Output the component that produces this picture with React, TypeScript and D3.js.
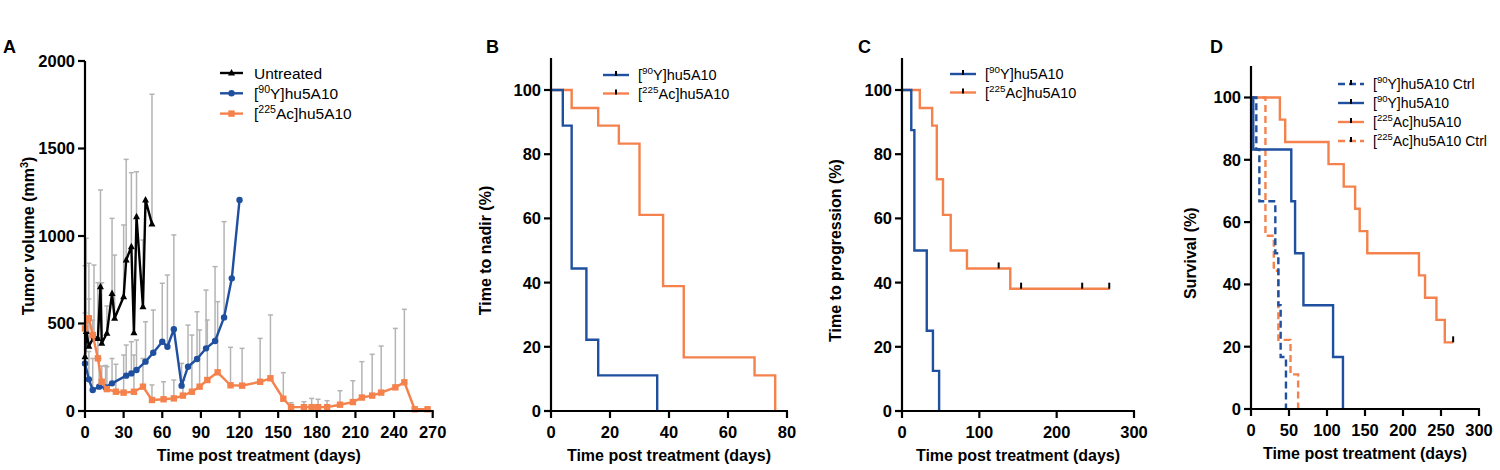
import React from 'react';
import * as d3 from 'd3';

// ---------- DATA ----------
// Panel A: tumour volume (mm3), mean with upper error bar
const untreatedDays = [0, 1, 3, 7, 10, 12, 13, 17, 21, 23, 30, 32, 36, 38, 40, 45, 47, 52];
const untreatedVals = [310, 455, 370, 425, 415, 710, 387, 444, 672, 530, 653, 863, 939, 447, 1110, 596, 1206, 1069];
const untreatedErr = [830, 987, 844, 834, 733, 1263, 733, 600, 1101, 891, 1063, 1438, 1362, 447, 1367, 977, 1206, 1810];

const yDays = [0, 3, 6, 11, 16, 21, 32, 36, 40, 47, 53, 60, 64, 69, 75, 80, 87, 94, 101, 108, 114, 120];
const yVals = [272, 181, 120, 139, 135, 158, 202, 215, 234, 282, 333, 396, 367, 467, 145, 253, 297, 358, 400, 535, 758, 1206];
const yErr = [480, 340, 300, 300, 260, 300, 377, 396, 406, 510, 577, 730, 777, 1006, 272, 491, 567, 691, 825, 1082, 758, 1206];

const acDays = [0, 3, 6, 10, 13, 17, 24, 30, 38, 45, 52, 61, 69, 76, 83, 89, 95, 103, 113, 122, 136, 144, 154, 160, 170, 176, 181, 188, 198, 208, 215, 223, 230, 241, 248, 256, 266];
const acVals = [472, 530, 434, 301, 167, 125, 110, 105, 110, 139, 63, 67, 72, 88, 110, 139, 177, 221, 147, 145, 167, 187, 70, 22, 22, 22, 22, 22, 36, 51, 77, 88, 105, 135, 164, 10, 10];
const acErr = [560, 640, 520, 420, 257, 253, 267, 320, 320, 300, 149, 167, 177, 177, 434, 463, 520, 625, 364, 358, 415, 549, 219, 47, 53, 72, 67, 59, 116, 173, 282, 324, 371, 472, 581, 10, 10];

const aXTicks = [0, 30, 60, 90, 120, 150, 180, 210, 240, 270];
const aYTicks = [0, 500, 1000, 1500, 2000];

// Panel B: time to nadir (%)
const nadirYTimes = [0, 4, 7, 12, 16, 36];
const nadirYPct = [100, 88.9, 44.4, 22.2, 11.1, 0];
const nadirAcTimes = [0, 7, 16, 23, 30, 38, 45, 69, 76];
const nadirAcPct = [100, 94.4, 88.9, 83.3, 61.1, 38.9, 16.7, 11.1, 0];
const bXTicks = [0, 20, 40, 60, 80];

// Panel C: time to progression (%)
const progYTimes = [0, 12, 16, 32, 40, 48];
const progYPct = [100, 87.5, 50, 25, 12.5, 0];
const progAcTimes = [0, 23, 39, 45, 53, 63, 84, 140, 269];
const progAcPct = [100, 94.4, 88.9, 72.2, 61.1, 50, 44.4, 38.1, 38.1];
const progAcCensorT = [125, 154, 233, 268];
const progAcCensorP = [44.4, 38.1, 38.1, 38.1];
const cXTicks = [0, 100, 200, 300];

// Panel D: survival (%)
const survYCtrlTimes = [0, 7, 11, 32, 36, 39, 46];
const survYCtrlPct = [100, 83.3, 66.7, 50, 33.3, 16.7, 0];
const survYTimes = [0, 3, 53, 58, 69, 108, 121];
const survYPct = [100, 83.3, 66.7, 50, 33.3, 16.7, 0];
const survAcTimes = [0, 38, 45, 102, 122, 137, 143, 153, 221, 229, 244, 255, 266];
const survAcPct = [100, 92.9, 85.7, 78.6, 71.4, 64.3, 57.1, 50, 42.9, 35.7, 28.6, 21.4, 21.4];
const survAcCensorT = [266];
const survAcCensorP = [21.4];
const survAcCtrlTimes = [0, 19, 30, 36, 52, 62];
const survAcCtrlPct = [100, 55.6, 44.4, 22.2, 11.1, 0];
const dXTicks = [0, 50, 100, 150, 200, 250, 300];

const pctTicks = [0, 20, 40, 60, 80, 100];

// ---------- STYLE ----------
const BLUE = '#1f4f9f';
const ORANGE = '#f5824c';
const GREY = '#b4b4b4';
const FONT = '"Liberation Sans", Arial, Helvetica, sans-serif';
const TICK_FS = 16.5;
const TITLE_FS = 16;
const LEG_FS = 15.5;

type Sc = d3.ScaleLinear<number, number>;

function YAxis({ scale, x, ticks, top, title, titleX }: { scale: Sc; x: number; ticks: number[]; top: number; title: React.ReactNode; titleX: number }) {
  const y0 = scale(0);
  const mid = (y0 + scale(ticks[ticks.length - 1])) / 2;
  return (
    <g>
      <line x1={x} x2={x} y1={y0 + 1} y2={top} stroke="#000" strokeWidth={2.2} />
      {ticks.map((t) => (
        <g key={t}>
          <line x1={x - 7} x2={x} y1={scale(t)} y2={scale(t)} stroke="#000" strokeWidth={2.2} />
          <text x={x - 10} y={scale(t)} dy="0.36em" textAnchor="end" fontFamily={FONT} fontWeight={700} fontSize={TICK_FS}>
            {t}
          </text>
        </g>
      ))}
      <text transform={`translate(${titleX},${mid}) rotate(-90)`} textAnchor="middle" fontFamily={FONT} fontWeight={700} fontSize={TITLE_FS}>
        {title}
      </text>
    </g>
  );
}

function XAxis({ scale, y, ticks, title }: { scale: Sc; y: number; ticks: number[]; title: string }) {
  const [a, b] = scale.range();
  return (
    <g>
      <line x1={a - 1} x2={b + 1} y1={y} y2={y} stroke="#000" strokeWidth={2.2} />
      {ticks.map((t) => (
        <g key={t}>
          <line x1={scale(t)} x2={scale(t)} y1={y} y2={y + 7} stroke="#000" strokeWidth={2.2} />
          <text x={scale(t)} y={y + 27} textAnchor="middle" fontFamily={FONT} fontWeight={700} fontSize={TICK_FS}>
            {t}
          </text>
        </g>
      ))}
      <text x={(a + b) / 2} y={y + 50} textAnchor="middle" fontFamily={FONT} fontWeight={700} fontSize={TITLE_FS}>
        {title}
      </text>
    </g>
  );
}

function Label({ sup, rest, fs }: { sup: string; rest: string; fs: number }) {
  return (
    <>
      <tspan>[</tspan>
      <tspan dy={-6} fontSize={fs * 0.68}>{sup}</tspan>
      <tspan dy={6}>{rest}</tspan>
    </>
  );
}

function KM({ xs, ys, times, pct, color, dash }: { xs: Sc; ys: Sc; times: number[]; pct: number[]; color: string; dash?: string }) {
  const pts = times.map((t, i) => [t, pct[i]] as [number, number]);
  const line = d3
    .line<[number, number]>()
    .x((d) => xs(d[0]))
    .y((d) => ys(d[1]))
    .curve(d3.curveStepAfter);
  return <path d={line(pts) || ''} fill="none" stroke={color} strokeWidth={2.4} strokeDasharray={dash} />;
}

function Censor({ xs, ys, times, pct }: { xs: Sc; ys: Sc; times: number[]; pct: number[] }) {
  return (
    <g>
      {times.map((t, i) => (
        <line key={i} x1={xs(t)} x2={xs(t)} y1={ys(pct[i]) - 6} y2={ys(pct[i])} stroke="#000" strokeWidth={2} />
      ))}
    </g>
  );
}

function LegendKM({ x, y, color, dash, label, fs }: { x: number; y: number; color: string; dash?: string; label: React.ReactNode; fs: number }) {
  return (
    <g>
      <line x1={x} x2={x + 26} y1={y} y2={y} stroke={color} strokeWidth={2.4} strokeDasharray={dash} />
      <line x1={x + 13} x2={x + 13} y1={y - 4} y2={y + 1} stroke="#000" strokeWidth={2} />
      <text x={x + 35} y={y} dy="0.36em" fontFamily={FONT} fontSize={fs}>
        {label}
      </text>
    </g>
  );
}

function Marker({ kind, x, y, color }: { kind: string; x: number; y: number; color: string }) {
  if (kind === 'circle') return <circle cx={x} cy={y} r={3.2} fill={color} />;
  if (kind === 'square') return <rect x={x - 3.2} y={y - 3.2} width={6.4} height={6.4} fill={color} />;
  return <path d={`M${x},${y - 4} L${x + 3.5},${y + 2.5} L${x - 3.5},${y + 2.5} Z`} fill={color} />;
}

function Series({ xs, ys, days, vals, color, kind }: { xs: Sc; ys: Sc; days: number[]; vals: number[]; color: string; kind: string }) {
  const pts = days.map((d, i) => [d, vals[i]] as [number, number]);
  const line = d3
    .line<[number, number]>()
    .x((d) => xs(d[0]))
    .y((d) => ys(d[1]));
  return (
    <g>
      <path d={line(pts) || ''} fill="none" stroke={color} strokeWidth={2.4} strokeLinejoin="round" />
      {pts.map((p, i) => (
        <Marker key={i} kind={kind} x={xs(p[0])} y={ys(p[1])} color={color} />
      ))}
    </g>
  );
}

function ErrBars({ xs, ys, days, vals, err }: { xs: Sc; ys: Sc; days: number[]; vals: number[]; err: number[] }) {
  return (
    <g>
      {days.map((d, i) =>
        err[i] > vals[i] ? (
          <g key={i}>
            <line x1={xs(d)} x2={xs(d)} y1={ys(vals[i])} y2={ys(err[i])} stroke={GREY} strokeWidth={1.5} />
            <line x1={xs(d) - 2.5} x2={xs(d) + 2.5} y1={ys(err[i])} y2={ys(err[i])} stroke={GREY} strokeWidth={1.5} />
          </g>
        ) : null
      )}
    </g>
  );
}

function PanelLetter({ x, y, t }: { x: number; y: number; t: string }) {
  return (
    <text x={x} y={y} fontFamily={FONT} fontWeight={700} fontSize={18}>
      {t}
    </text>
  );
}

export default function App() {
  // Panel A
  const ax = d3.scaleLinear().domain([0, 270]).range([85, 432.7]);
  const ay = d3.scaleLinear().domain([0, 2000]).range([411, 61]);
  // Panel B
  const bx = d3.scaleLinear().domain([0, 80]).range([551, 787]);
  const by = d3.scaleLinear().domain([0, 100]).range([411, 90]);
  // Panel C
  const cx = d3.scaleLinear().domain([0, 300]).range([902, 1134]);
  const cy = d3.scaleLinear().domain([0, 100]).range([411, 90]);
  // Panel D
  const dx = d3.scaleLinear().domain([0, 300]).range([1251, 1479]);
  const dy = d3.scaleLinear().domain([0, 100]).range([409, 97.5]);

  const BC_FS = 14.5;
  const D_FS = 14;

  return (
    <svg width={1500} height={470} style={{ position: 'absolute', left: 0, top: 0, background: '#fff' }}>
      <rect x={0} y={0} width={1500} height={470} fill="#fff" />

      {/* Panel A */}
      <PanelLetter x={3} y={53} t="A" />
      <ErrBars xs={ax} ys={ay} days={untreatedDays} vals={untreatedVals} err={untreatedErr} />
      <ErrBars xs={ax} ys={ay} days={yDays} vals={yVals} err={yErr} />
      <ErrBars xs={ax} ys={ay} days={acDays} vals={acVals} err={acErr} />
      <Series xs={ax} ys={ay} days={untreatedDays} vals={untreatedVals} color="#000" kind="tri" />
      <Series xs={ax} ys={ay} days={yDays} vals={yVals} color={BLUE} kind="circle" />
      <Series xs={ax} ys={ay} days={acDays} vals={acVals} color={ORANGE} kind="square" />
      <YAxis
        scale={ay}
        x={85}
        ticks={aYTicks}
        top={61}
        titleX={34}
        title={
          <>
            <tspan>Tumor volume (mm</tspan>
            <tspan dy={-6} fontSize={11}>3</tspan>
            <tspan dy={6}>)</tspan>
          </>
        }
      />
      <XAxis scale={ax} y={411} ticks={aXTicks} title="Time post treatment (days)" />
      <g>
        {[
          { c: '#000', k: 'tri', lab: <tspan>Untreated</tspan> },
          { c: BLUE, k: 'circle', lab: <Label sup="90" rest="Y]hu5A10" fs={LEG_FS} /> },
          { c: ORANGE, k: 'square', lab: <Label sup="225" rest="Ac]hu5A10" fs={LEG_FS} /> },
        ].map((r, i) => (
          <g key={i}>
            <line x1={220} x2={243} y1={73 + i * 20.3} y2={73 + i * 20.3} stroke={r.c} strokeWidth={2.4} />
            <Marker kind={r.k} x={231.5} y={73 + i * 20.3} color={r.c} />
            <text x={254} y={73 + i * 20.3} dy="0.36em" fontFamily={FONT} fontSize={LEG_FS}>
              {r.lab}
            </text>
          </g>
        ))}
      </g>

      {/* Panel B */}
      <PanelLetter x={486} y={53} t="B" />
      <KM xs={bx} ys={by} times={nadirAcTimes} pct={nadirAcPct} color={ORANGE} />
      <KM xs={bx} ys={by} times={nadirYTimes} pct={nadirYPct} color={BLUE} />
      <YAxis scale={by} x={551} ticks={pctTicks} top={58} titleX={491} title="Time to nadir (%)" />
      <XAxis scale={bx} y={411} ticks={bXTicks} title="Time post treatment (days)" />
      <LegendKM x={603} y={75} color={BLUE} fs={BC_FS} label={<Label sup="90" rest="Y]hu5A10" fs={BC_FS} />} />
      <LegendKM x={603} y={93.5} color={ORANGE} fs={BC_FS} label={<Label sup="225" rest="Ac]hu5A10" fs={BC_FS} />} />

      {/* Panel C */}
      <PanelLetter x={858} y={53} t="C" />
      <KM xs={cx} ys={cy} times={progAcTimes} pct={progAcPct} color={ORANGE} />
      <KM xs={cx} ys={cy} times={progYTimes} pct={progYPct} color={BLUE} />
      <Censor xs={cx} ys={cy} times={progAcCensorT} pct={progAcCensorP} />
      <YAxis scale={cy} x={902} ticks={pctTicks} top={58} titleX={841} title="Time to progression  (%)" />
      <XAxis scale={cx} y={411} ticks={cXTicks} title="Time post treatment (days)" />
      <LegendKM x={950} y={74} color={BLUE} fs={BC_FS} label={<Label sup="90" rest="Y]hu5A10" fs={BC_FS} />} />
      <LegendKM x={950} y={92.5} color={ORANGE} fs={BC_FS} label={<Label sup="225" rest="Ac]hu5A10" fs={BC_FS} />} />

      {/* Panel D */}
      <PanelLetter x={1210} y={53} t="D" />
      <KM xs={dx} ys={dy} times={survAcTimes} pct={survAcPct} color={ORANGE} />
      <KM xs={dx} ys={dy} times={survAcCtrlTimes} pct={survAcCtrlPct} color={ORANGE} dash="7,4" />
      <KM xs={dx} ys={dy} times={survYTimes} pct={survYPct} color={BLUE} />
      <KM xs={dx} ys={dy} times={survYCtrlTimes} pct={survYCtrlPct} color={BLUE} dash="7,4" />
      <Censor xs={dx} ys={dy} times={survAcCensorT} pct={survAcCensorP} />
      <YAxis scale={dy} x={1251} ticks={pctTicks} top={66} titleX={1196} title="Survival (%)" />
      <XAxis scale={dx} y={409} ticks={dXTicks} title="Time post treatment (days)" />
      <LegendKM x={1338} y={84} color={BLUE} dash="7,4" fs={D_FS} label={<Label sup="90" rest="Y]hu5A10 Ctrl" fs={D_FS} />} />
      <LegendKM x={1338} y={103} color={BLUE} fs={D_FS} label={<Label sup="90" rest="Y]hu5A10" fs={D_FS} />} />
      <LegendKM x={1338} y={122} color={ORANGE} fs={D_FS} label={<Label sup="225" rest="Ac]hu5A10" fs={D_FS} />} />
      <LegendKM x={1338} y={141} color={ORANGE} dash="7,4" fs={D_FS} label={<Label sup="225" rest="Ac]hu5A10 Ctrl" fs={D_FS} />} />
    </svg>
  );
}
